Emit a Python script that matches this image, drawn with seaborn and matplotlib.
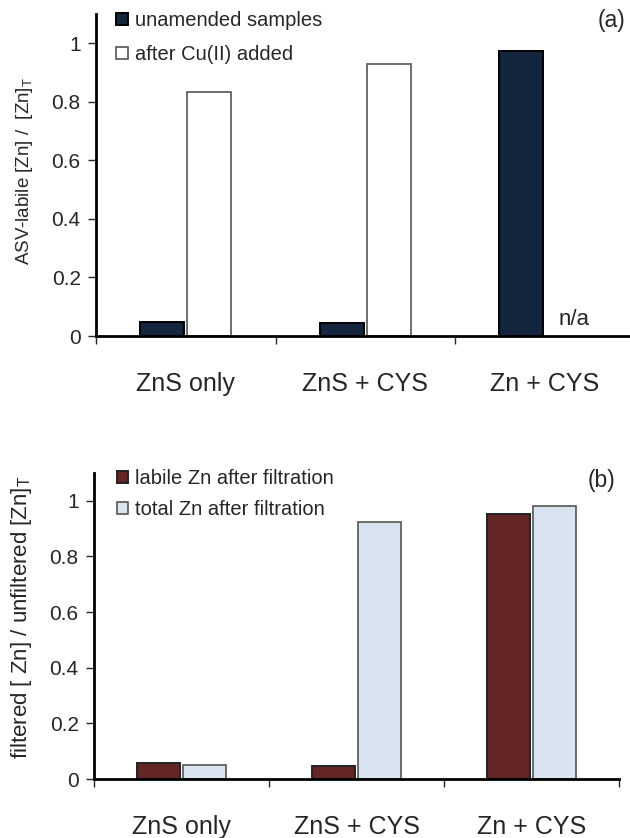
import numpy as np
import pandas as pd
import matplotlib
matplotlib.use("Agg")
import matplotlib.pyplot as plt
import seaborn as sns

# --- data ---
samples = ["ZnS only", "ZnS + CYS", "Zn + CYS"]

series_a = ["unamended samples", "after Cu(II) added"]
unamended = [0.049, 0.045, 0.973]
after_cu = [0.832, 0.929, np.nan]   # n/a for Zn + CYS

series_b = ["labile Zn after filtration", "total Zn after filtration"]
labile_filt = [0.057, 0.047, 0.954]
total_filt = [0.051, 0.923, 0.981]

yticks = [0, 0.2, 0.4, 0.6, 0.8, 1]
ytick_labels = ["0", "0.2", "0.4", "0.6", "0.8", "1"]

sns.set_style("ticks")
plt.rcParams["font.family"] = ["Liberation Sans", "DejaVu Sans"]
plt.rcParams["mathtext.default"] = "regular"


def long_frame(names, a, b):
    return pd.DataFrame({
        "sample": samples * 2,
        "series": [names[0]] * 3 + [names[1]] * 3,
        "value": list(a) + list(b),
    })


def style_panel(ax, df, names, colors, edges, ylabel, ylabel_size, ylabel_xy,
                tag, tag_xy, leg_anchor, leg_space):
    sns.barplot(data=df, x="sample", y="value", hue="series", order=samples,
                hue_order=names, palette=colors, width=0.524, gap=0.065,
                saturation=1, legend=False, ax=ax)
    for cont, ec, lw in zip(ax.containers, edges, [1.4, 1.2]):
        for p in cont:
            p.set_edgecolor(ec)
            p.set_linewidth(lw)
    ax.set_xlim(-0.5, 2.5)
    ax.set_ylim(0, 1.1)
    ax.set_yticks(yticks)
    ax.set_yticklabels(ytick_labels, fontsize=15)
    ax.set_xticks([-0.5, 0.5, 1.5, 2.5])
    ax.set_xticklabels([])
    ax.set_xticks([0, 1, 2], minor=True)
    ax.set_xticklabels(samples, minor=True, fontsize=18)
    ax.tick_params(axis="x", which="minor", length=0, pad=26)
    ax.tick_params(axis="x", which="major", length=6, width=1, direction="out")
    ax.tick_params(axis="y", length=6, width=1, direction="out", pad=5)
    ax.set_xlabel("")
    ax.set_ylabel(ylabel, fontsize=ylabel_size)
    ax.yaxis.set_label_coords(*ylabel_xy)
    for s in ["top", "right"]:
        ax.spines[s].set_visible(False)
    for s in ["left", "bottom"]:
        ax.spines[s].set_linewidth(2)
        ax.spines[s].set_color("black")
    ax.text(tag_xy[0], tag_xy[1], tag, transform=ax.transAxes, fontsize=16.5,
            ha="center", va="center")
    handles = [ax.containers[0][0], ax.containers[1][0]]
    ax.legend(handles, names, loc="upper left", bbox_to_anchor=leg_anchor,
              frameon=False, fontsize=14.5, handlelength=0.55, handleheight=0.55,
              handletextpad=0.35, labelspacing=leg_space, borderaxespad=0,
              borderpad=0)


fig = plt.figure(figsize=(6.3, 8.38), dpi=100)
ax1 = fig.add_axes([96 / 630, 1 - 336 / 838, 538.5 / 630, 322 / 838])
ax2 = fig.add_axes([94 / 630, 1 - 779 / 838, 525 / 630, 306 / 838])

style_panel(ax1, long_frame(series_a, unamended, after_cu), series_a,
            ["#14263d", "#ffffff"], ["#000000", "#555555"],
            r"ASV-labile [Zn] /  [Zn]$_\mathregular{T}$", 13.5, (-0.113, 0.512),
            "(a)", (0.958, 0.981), (0.038, 1.008), 0.72)
ax1.text(2.163, 0.055, "n/a", fontsize=16, ha="center", va="center")

style_panel(ax2, long_frame(series_b, labile_filt, total_filt), series_b,
            ["#632526", "#dae4f0"], ["#222222", "#555555"],
            r"filtered [ Zn] / unfiltered [Zn]$_\mathregular{T}$", 16, (-0.114, 0.529),
            "(b)", (0.966, 0.977), (0.043, 1.014), 0.6)

fig.savefig("out.png", dpi=100)
